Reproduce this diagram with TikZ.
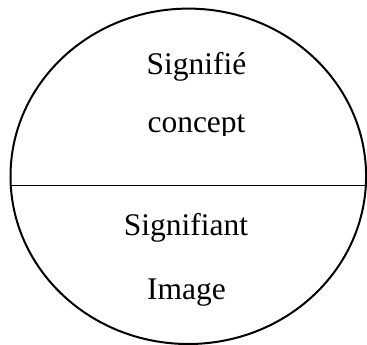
\documentclass[tikz,border=0pt]{standalone}
\usepackage{fontspec}
\setmainfont{Liberation Serif}
\usetikzlibrary{shapes.geometric}
\begin{document}
\begin{tikzpicture}[x=1bp,y=-1bp,
  lbl/.style={anchor=base,inner sep=0pt,font=\fontsize{31.5bp}{36bp}\selectfont}]
\useasboundingbox (0,0) rectangle (367,345);
\node[ellipse,draw,line width=2bp,inner sep=0pt,minimum width=355.6bp,minimum height=335.4bp] (oval) at (188.3,176.3) {};
\coordinate (L) at (10.7,185.5);
\coordinate (R) at (365.9,185.5);
\draw[line width=1.1bp] (L) -- (R);
\node[lbl] (sig) at (196.5,74) {Signifié};
\begin{scope}
\clip (100,90) rectangle (300,135);
\node[lbl] (con) at (196.5,132) {concept};
\end{scope}
\node[lbl] (sigt) at (186,235.7) {Signifiant};
\node[lbl] (img) at (186.5,299) {Image};
\end{tikzpicture}
\end{document}
